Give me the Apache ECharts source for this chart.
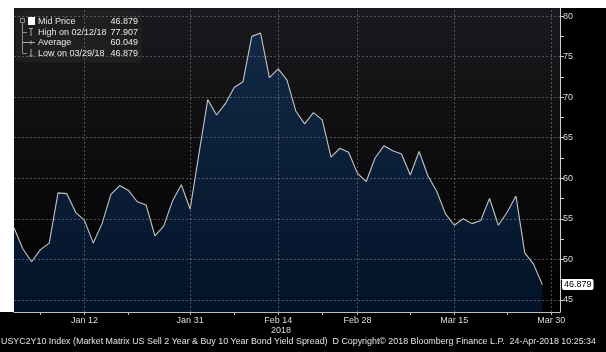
<!DOCTYPE html>
<html lang="en">
<head>
<meta charset="UTF-8">
<title>USYC2Y10 Index</title>
<script src="https://cdn.jsdelivr.net/npm/echarts@6/dist/echarts.min.js"></script>
<style>html,body{margin:0;padding:0;background:#fff;}</style>
</head>
<body>
<div id="main" style="width:606px;height:352px;"></div>
<script>
// business days, Jan 2 - Mar 30 2018 (holidays skipped)
var dates = [
  'Jan 2','Jan 3','Jan 4','Jan 5','Jan 8','Jan 9','Jan 10','Jan 11','Jan 12',
  'Jan 16','Jan 17','Jan 18','Jan 19','Jan 22','Jan 23','Jan 24','Jan 25','Jan 26',
  'Jan 29','Jan 30','Jan 31',
  'Feb 1','Feb 2','Feb 5','Feb 6','Feb 7','Feb 8','Feb 9','Feb 12','Feb 13','Feb 14',
  'Feb 15','Feb 16','Feb 20','Feb 21','Feb 22','Feb 23','Feb 26','Feb 27','Feb 28',
  'Mar 1','Mar 2','Mar 5','Mar 6','Mar 7','Mar 8','Mar 9','Mar 12','Mar 13','Mar 14',
  'Mar 15','Mar 16','Mar 19','Mar 20','Mar 21','Mar 22','Mar 23','Mar 26','Mar 27',
  'Mar 28','Mar 29','Mar 30'
];
var spread = [
  53.9, 51.3, 49.7, 51.2, 52.0, 58.2, 58.1, 55.8, 54.8,
  52.0, 54.4, 58.0, 59.1, 58.5, 57.1, 56.7, 52.9, 54.1,
  57.2, 59.2, 56.2,
  63.0, 69.7, 67.8, 69.2, 71.2, 71.9, 77.5, 77.907, 72.4, 73.5,
  72.1, 68.3, 66.7, 68.1, 67.2, 62.6, 63.7, 63.2, 60.6,
  59.6, 62.5, 64.0, 63.4, 63.0, 60.4, 63.3, 60.3, 58.4, 55.6,
  54.2, 55.0, 54.4, 54.8, 57.5, 54.2, 55.8, 57.8, 50.8,
  49.4, 46.879
];
var dateLabels = ['Jan 12', 'Jan 31', 'Feb 14', 'Feb 28', 'Mar 15', 'Mar 30'];
var xMinorTicks = ['Jan 5', 'Jan 22', 'Feb 7', 'Feb 22', 'Mar 8', 'Mar 23'];
var yTicks = [45, 50, 55, 60, 65, 70, 75, 80];
var yMinorTicks = [47.5, 52.5, 57.5, 62.5, 67.5, 72.5, 77.5];
var lastPrice = 46.879;
var legendNames = ['Mid Price', 'High on 02/12/18', 'Average', 'Low on 03/29/18'];
var legendValues = ['46.879', '77.907', '60.049', '46.879'];
var footer = 'USYC2Y10 Index (Market Matrix US Sell 2 Year & Buy 10 Year Bond Yield Spread)  D Copyright\u00a9 2018 Bloomberg Finance L.P.  24-Apr-2018 10:25:34';

var FONT = 'Liberation Sans';
var cats = dates.concat(['']);   // one spare slot so the axis sits right of Mar 30

var chart = echarts.init(document.getElementById('main'));

// legend box, drawn by hand like the terminal one
var legendItems = [
  {type: 'rect', shape: {x: 16, y: 10, width: 126, height: 52, r: 3}, style: {fill: '#1f1f22'}},
  {type: 'rect', shape: {x: 20.5, y: 18.5, width: 4, height: 4}, style: {fill: 'none', stroke: '#8a8a8a', lineWidth: 1}},
  {type: 'line', shape: {x1: 22.5, y1: 23, x2: 22.5, y2: 53.5}, style: {stroke: '#8a8a8a', lineWidth: 1}},
  {type: 'rect', shape: {x: 28, y: 17, width: 7, height: 8}, style: {fill: '#fff'}},
  {type: 'line', shape: {x1: 29, y1: 28.5, x2: 33, y2: 28.5}, style: {stroke: '#aaa'}},
  {type: 'line', shape: {x1: 31, y1: 28.5, x2: 31, y2: 36}, style: {stroke: '#aaa'}},
  {type: 'line', shape: {x1: 22.5, y1: 42.5, x2: 35, y2: 42.5}, style: {stroke: '#aaa'}},
  {type: 'line', shape: {x1: 31, y1: 40.5, x2: 31, y2: 44.5}, style: {stroke: '#aaa'}},
  {type: 'line', shape: {x1: 31, y1: 49, x2: 31, y2: 56}, style: {stroke: '#aaa'}},
  {type: 'line', shape: {x1: 29, y1: 56, x2: 33, y2: 56}, style: {stroke: '#aaa'}},
  {type: 'line', shape: {x1: 22.5, y1: 32.5, x2: 27, y2: 32.5}, style: {stroke: '#8a8a8a'}},
  {type: 'line', shape: {x1: 22.5, y1: 53.5, x2: 27, y2: 53.5}, style: {stroke: '#8a8a8a'}}
];
var rowY = [21.5, 32.2, 42.8, 53.4];
legendNames.forEach(function (n, i) {
  legendItems.push({type: 'text', x: 38, y: rowY[i], style: {text: n, fill: '#e8e8e8', font: '9px ' + FONT, textVerticalAlign: 'middle'}});
  legendItems.push({type: 'text', x: 138, y: rowY[i], style: {text: legendValues[i], fill: '#e8e8e8', font: '9px ' + FONT, textAlign: 'right', textVerticalAlign: 'middle'}});
});

var option = {
  backgroundColor: '#000',
  animation: false,
  grid: {
    left: 14, right: 46, top: 8, bottom: 40,
    show: true, borderWidth: 0,
    backgroundColor: new echarts.graphic.LinearGradient(0, 0, 0, 1, [
      {offset: 0, color: '#1a1a1e'},
      {offset: 1, color: '#000'}
    ])
  },
  xAxis: {
    type: 'category',
    data: cats,
    boundaryGap: false,
    axisLine: {lineStyle: {color: '#bdbdbd', width: 1}},
    axisTick: {
      length: 3,
      lineStyle: {color: '#bdbdbd'},
      interval: function (idx, v) { return dateLabels.indexOf(v) >= 0 || xMinorTicks.indexOf(v) >= 0; }
    },
    axisLabel: {
      color: '#dcdcdc', fontSize: 9, fontFamily: FONT, margin: 4,
      interval: function (idx, v) { return dateLabels.indexOf(v) >= 0; }
    },
    splitLine: {show: false}
  },
  yAxis: [{
    type: 'value',
    position: 'right',
    min: 43.5, max: 81,
    axisLine: {show: true, lineStyle: {color: '#cfcfcf', width: 1}},
    axisTick: {show: true, length: 4, lineStyle: {color: '#cfcfcf'}, customValues: yTicks.concat(yMinorTicks)},
    axisLabel: {color: '#dcdcdc', fontSize: 9, fontFamily: FONT, margin: 3, customValues: yTicks},
    splitLine: {show: false}
  }, {
    type: 'value',
    position: 'right',
    min: 43.5, max: 81,
    axisLine: {show: false},
    axisTick: {show: false},
    axisLabel: {
      customValues: [lastPrice],
      formatter: function (v) { return v.toFixed(3); },
      color: '#000', backgroundColor: '#fff', borderRadius: 2,
      padding: [1, 2, 1, 2], fontSize: 9, fontFamily: FONT, margin: 2
    },
    splitLine: {show: false}
  }],
  series: [{
    type: 'line',
    data: spread,
    symbol: 'none',
    lineStyle: {color: '#c4c4c4', width: 1.1},
    areaStyle: {
      color: new echarts.graphic.LinearGradient(0, 0, 0, 1, [
        {offset: 0, color: '#103056'},
        {offset: 1, color: '#041c3a'}
      ])
    },
    markLine: {
      silent: true,
      symbol: 'none',
      label: {show: false},
      lineStyle: {type: [2, 2], color: 'rgba(150,150,155,0.5)', width: 1},
      data: yTicks.map(function (v) { return {yAxis: v}; })
        .concat(dateLabels.map(function (d) { return {xAxis: d}; }))
    }
  }],
  graphic: [
    {type: 'rect', shape: {x: 0, y: 0, width: 606, height: 8}, style: {fill: '#fff'}},
    {type: 'rect', shape: {x: 0, y: 0, width: 14, height: 312}, style: {fill: '#fff'}},
    {type: 'group', children: legendItems},
    {type: 'text', x: 281, y: 331, style: {text: '2018', fill: '#dcdcdc', font: '9px ' + FONT, textAlign: 'center', textVerticalAlign: 'middle'}},
    {type: 'text', x: 1, y: 342, style: {text: footer, fill: '#e4e4e4', font: '8.9px ' + FONT, textVerticalAlign: 'middle'}}
  ]
};

chart.setOption(option);
</script>
</body>
</html>
